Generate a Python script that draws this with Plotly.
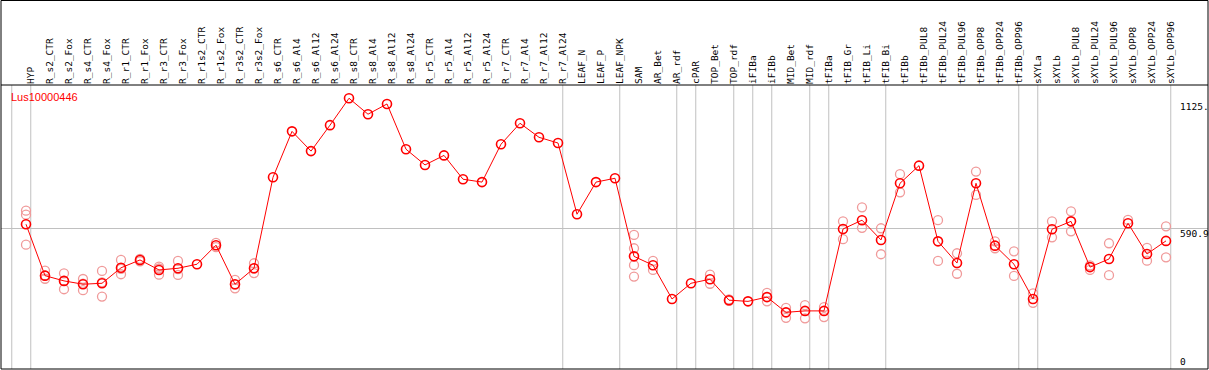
import plotly.graph_objects as go
import numpy as np

categories = [
    "HYP", "R_s2_CTR", "R_s2_Fox", "R_s4_CTR", "R_s4_Fox", "R_r1_CTR", "R_r1_Fox",
    "R_r3_CTR", "R_r3_Fox", "R_r1s2_CTR", "R_r1s2_Fox", "R_r3s2_CTR", "R_r3s2_Fox",
    "R_s6_CTR", "R_s6_Al4", "R_s6_Al12", "R_s6_Al24", "R_s8_CTR", "R_s8_Al4",
    "R_s8_Al12", "R_s8_Al24", "R_r5_CTR", "R_r5_Al4", "R_r5_Al12", "R_r5_Al24",
    "R_r7_CTR", "R_r7_Al4", "R_r7_Al12", "R_r7_Al24", "LEAF_N", "LEAF_P", "LEAF_NPK",
    "SAM", "AR_Bet", "AR_rdf", "cPAR", "TOP_Bet", "TOP_rdf", "iFIBa", "iFIBb",
    "MID_Bet", "MID_rdf", "tFIBa", "tFIB_Gr", "tFIB_Li", "tFIB_Bi", "tFIBb",
    "tFIBb_PUL8", "tFIBb_PUL24", "tFIBb_PUL96", "tFIBb_OPP8", "tFIBb_OPP24",
    "tFIBb_OPP96", "sXYLa", "sXYLb", "sXYLb_PUL8", "sXYLb_PUL24", "sXYLb_PUL96",
    "sXYLb_OPP8", "sXYLb_OPP24", "sXYLb_OPP96",
]

# number of consecutive categories in each group (vertical separators after each group)
group_sizes = [1, 28, 3, 3, 1, 2, 1, 1, 2, 1, 3, 7, 1, 7]

means = [
    608, 392, 370, 356, 360, 425, 458, 416, 423, 440, 520, 356, 423,
    805, 998, 915, 1024, 1137, 1070, 1113, 923, 857, 897, 797, 785,
    944, 1032, 973, 949, 650, 785, 801,
    473, 436, 294, 360, 377, 289, 284, 302, 238, 244, 244,
    588, 625, 542, 780, 854, 536, 445, 780, 518, 440,
    294, 587, 620, 428, 462, 612, 483, 538,
]

replicates = [
    [665, 648, 522], [413, 379, 392], [402, 335, 370], [378, 331, 358], [412, 304, 364],
    [458, 398, 421], [462, 452], [430, 396, 422], [454, 395, 420], [],
    [530, 512], [374, 339, 354], [444, 403, 422],
    [], [], [], [], [], [], [], [], [], [], [], [], [], [], [], [], [], [], [],
    [563, 507, 436, 388], [454, 416], [], [], [396, 358], [292, 286], [], [320, 284],
    [257, 215], [268, 213], [260, 218],
    [620, 545], [679, 593], [591, 482], [818, 742], [], [625, 454], [486, 400],
    [829, 731], [536, 507], [494, 391],
    [318, 278], [620, 553], [662, 578], [435, 416], [528, 394], [626], [509, 455], [599, 469],
]

gene_name = "Lus10000446"
y_labels = [("1125.", 1125), ("590.9", 590.9), ("0", 0)]

n = len(categories)
xs = list(range(n))

rep_x, rep_y = [], []
for i, reps in enumerate(replicates):
    for v in reps:
        rep_x.append(i)
        rep_y.append(v)

fig = go.Figure()
fig.add_trace(go.Scatter(
    x=rep_x, y=rep_y, mode="markers",
    marker=dict(symbol="circle-open", size=9, color="#f09a9a", line=dict(width=1.3)),
    hoverinfo="skip", showlegend=False,
))
fig.add_trace(go.Scatter(
    x=xs, y=means, mode="lines+markers",
    line=dict(color="#ff0000", width=1),
    marker=dict(symbol="circle-open", size=9, color="#ff0000", line=dict(width=1.6)),
    showlegend=False,
))

W, H = 1209, 370
ml, mr, mt, mb = 1, 1, 85, 1
plot_h = H - mt - mb
px_left, px_right = ml, W - mr
x0_px, dx_px = 26, 19
x_range = [(px_left - x0_px) / dx_px, (px_right - x0_px) / dx_px]
label_offset = 0.25  # centre rotated labels over their category

shapes = []
ends = [-1] + list(np.cumsum(group_sizes) - 1)
for e in ends:
    shapes.append(dict(type="line", xref="x", yref="paper", x0=e + 0.25, x1=e + 0.25,
                       y0=0, y1=1, line=dict(color="#c0c0c0", width=1), layer="below"))
# outer frame and separator line
top_paper = (plot_h + mt - 0.5) / plot_h
shapes.append(dict(type="rect", xref="paper", yref="paper", x0=0, x1=1, y0=0, y1=top_paper,
                   line=dict(color="black", width=1)))
shapes.append(dict(type="line", xref="paper", yref="paper", x0=0, x1=1, y0=1, y1=1,
                   line=dict(color="black", width=1)))

annotations = [dict(
    text=gene_name, xref="paper", yref="paper", x=8 / (px_right - px_left), y=1,
    xanchor="left", yanchor="top", yshift=-4, showarrow=False,
    font=dict(family="Liberation Sans", size=11, color="#ff0000"),
)]
for txt, v in y_labels:
    annotations.append(dict(
        text=txt, xref="x", yref="y", x=n - 1, y=v, xshift=12,
        xanchor="left", yanchor="bottom" if v == 0 else "top",
        yshift=0 if v == 0 else 2, showarrow=False,
        font=dict(family="DejaVu Sans Mono", size=9.5, color="black"),
    ))

fig.update_layout(
    width=W, height=H,
    margin=dict(l=ml, r=mr, t=mt, b=mb, pad=0),
    paper_bgcolor="white", plot_bgcolor="white",
    xaxis=dict(
        range=x_range, side="top", tickmode="array",
        tickvals=[i + label_offset for i in xs], ticktext=categories,
        tickangle=-90, ticks="", showgrid=False, zeroline=False, showline=False,
        tickfont=dict(family="DejaVu Sans Mono", size=9.5, color="black"),
        fixedrange=True,
    ),
    yaxis=dict(
        range=[0, plot_h / 0.23812], tickmode="array", tickvals=[590.9],
        showticklabels=False, showgrid=True, gridcolor="#c0c0c0", gridwidth=1,
        zeroline=False, showline=False, ticks="", fixedrange=True,
    ),
    shapes=shapes, annotations=annotations,
)

fig.write_html(
    "out.html",
    config={"displayModeBar": False},
    post_script="document.body.style.margin='0';document.body.style.overflow='hidden';",
)
